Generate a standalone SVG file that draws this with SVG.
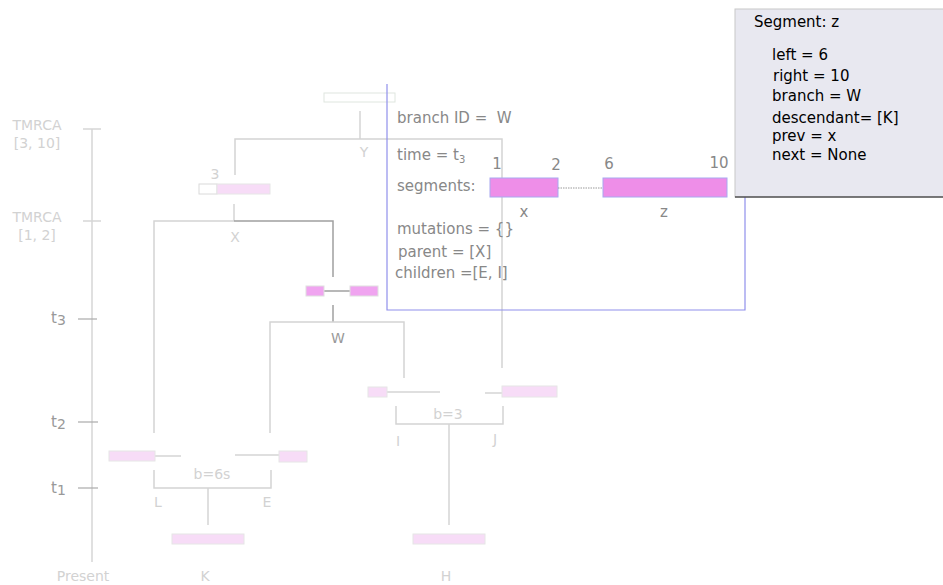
<svg xmlns="http://www.w3.org/2000/svg" width="943" height="585" viewBox="0 0 943 585">
<style>
text{font-family:"DejaVu Sans","Liberation Sans",sans-serif}
.ax{stroke:#d6d6d6;stroke-width:1.5;fill:none}
.tk{stroke:#aaa;stroke-width:1.2;fill:none}
.ln{stroke:#d4d4d4;stroke-width:1.5;fill:none}
.dk{stroke:#a0a0a0;stroke-width:1.5;fill:none}
.faint{fill:#d2d2d2;font-size:14px}
.tl{fill:#999;font-size:15px}
.lp{fill:#f7dcf7;stroke:#e6e6e6;stroke-width:1}
.mp{fill:#f0a4f0;stroke:#e0e0e0;stroke-width:1}
.info{fill:#888;font-size:15px}
.seg{fill:#ee8ee8;stroke:#a8a8f0;stroke-width:1}
.sb{fill:#000;font-size:15px}
</style>
<g id="axis">
<line class="ax" x1="92" y1="129" x2="92" y2="562"/>
<line class="ax" x1="83" y1="129" x2="101" y2="129"/>
<line class="ax" x1="83" y1="221" x2="101" y2="221"/>
<line class="tk" x1="78" y1="319" x2="97" y2="319"/>
<line class="tk" x1="78" y1="422" x2="98" y2="422"/>
<line class="tk" x1="78" y1="488" x2="98" y2="488"/>
<text class="faint" x="37" y="130" text-anchor="middle">TMRCA</text>
<text class="faint" x="37" y="148" text-anchor="middle">[3, 10]</text>
<text class="faint" x="37" y="222" text-anchor="middle">TMRCA</text>
<text class="faint" x="37" y="240" text-anchor="middle">[1, 2]</text>
<text class="tl" x="51" y="323">t<tspan font-size="14" dy="2">3</tspan></text>
<text class="tl" x="51" y="427">t<tspan font-size="14" dy="2">2</tspan></text>
<text class="tl" x="51" y="493">t<tspan font-size="14" dy="2">1</tspan></text>
<text class="faint" x="83" y="581" text-anchor="middle">Present</text>
</g>
<g id="connectors">
<line class="ln" x1="360" y1="111" x2="360" y2="139"/>
<polyline class="ln" points="235,175 235,139 502,139 502,368"/>
<line class="ln" x1="234" y1="204" x2="234" y2="221"/>
<polyline class="ln" points="154,433 154,221 234,221"/>
<polyline class="dk" points="234,221 333,221 333,277"/>
<line class="dk" x1="324" y1="291" x2="350" y2="291"/>
<line class="dk" x1="333" y1="305" x2="333" y2="322"/>
<polyline class="ln" points="270,433 270,322 404,322 404,378"/>
<line class="ln" x1="387" y1="392" x2="440" y2="392"/>
<line class="ln" x1="485" y1="393" x2="502" y2="393"/>
<polyline class="ln" points="396,406 396,424 503,424 503,406"/>
<line class="ln" x1="449" y1="424" x2="449" y2="525"/>
<line class="ln" x1="155" y1="456" x2="181" y2="456"/>
<line class="ln" x1="235" y1="455" x2="279" y2="455"/>
<polyline class="ln" points="154,470 154,488 271,488 271,470"/>
<line class="ln" x1="208" y1="488" x2="208" y2="525"/>
</g>
<g id="node-Y">
<rect x="324" y="93" width="71" height="9" fill="#fff" stroke="#dfe6df" stroke-width="1"/>
<text class="faint" x="364" y="157" text-anchor="middle">Y</text>
</g>
<g id="node-X">
<rect x="199" y="184" width="18" height="10" fill="#fff" stroke="#dadada" stroke-width="1"/>
<rect class="lp" x="217" y="184" width="53" height="10"/>
<text class="faint" x="215" y="179" text-anchor="middle">3</text>
<text class="faint" x="235" y="242" text-anchor="middle">X</text>
</g>
<g id="node-W">
<rect class="mp" x="306" y="286" width="18" height="10"/>
<rect class="mp" x="350" y="286" width="28" height="10"/>
<text x="338" y="343" text-anchor="middle" fill="#999" font-size="14">W</text>
</g>
<g id="node-I">
<rect class="lp" x="368" y="387" width="19" height="10"/>
<text class="faint" x="398" y="446" text-anchor="middle">I</text>
</g>
<g id="node-J">
<rect class="lp" x="502" y="386" width="55" height="11"/>
<text class="faint" x="495" y="444" text-anchor="middle">J</text>
</g>
<g id="label-b3">
<text class="faint" x="448" y="419" text-anchor="middle">b=3</text>
</g>
<g id="node-H">
<rect class="lp" x="413" y="534" width="72" height="10"/>
<text class="faint" x="446" y="581" text-anchor="middle">H</text>
</g>
<g id="node-L">
<rect class="lp" x="109" y="451" width="46" height="10"/>
<text class="faint" x="158" y="507" text-anchor="middle">L</text>
</g>
<g id="node-E">
<rect class="lp" x="279" y="451" width="28" height="11"/>
<text class="faint" x="267" y="507" text-anchor="middle">E</text>
</g>
<g id="label-b6s">
<text class="faint" x="212" y="479" text-anchor="middle">b=6s</text>
</g>
<g id="node-K">
<rect class="lp" x="172" y="534" width="72" height="10"/>
<text class="faint" x="205" y="581" text-anchor="middle">K</text>
</g>
<g id="info-box">
<polyline points="387,84 387,310 745,310 745,84" fill="none" stroke="#9090ec" stroke-width="1.2"/>
<text class="info" x="397" y="123" xml:space="preserve">branch ID =  W</text>
<text class="info" x="397" y="160">time = t<tspan font-size="10" dy="3">3</tspan></text>
<text class="info" x="397" y="191">segments:</text>
<text class="info" x="497" y="169" text-anchor="middle">1</text>
<text class="info" x="556" y="170" text-anchor="middle">2</text>
<text class="info" x="609" y="169" text-anchor="middle">6</text>
<text class="info" x="719" y="168" text-anchor="middle">10</text>
<rect class="seg" x="490" y="178" width="68" height="19"/>
<rect class="seg" x="603" y="178" width="124" height="19"/>
<line x1="558" y1="188" x2="603" y2="188" stroke="#999" stroke-width="1" stroke-dasharray="1.5,1"/>
<text class="info" x="524" y="217" text-anchor="middle">x</text>
<text class="info" x="664" y="217" text-anchor="middle">z</text>
<text class="info" x="397" y="234">mutations = {}</text>
<text class="info" x="398" y="257">parent = [X]</text>
<text class="info" x="395" y="278">children =[E, I]</text>
</g>
<g id="segment-box">
<rect x="735" y="9" width="215" height="188" fill="#e8e8f0" stroke="#c8c8c8" stroke-width="1"/>
<line x1="735" y1="197" x2="943" y2="197" stroke="#111" stroke-width="1.2"/>
<text class="sb" x="754" y="27">Segment: z</text>
<text class="sb" x="772" y="60">left = 6</text>
<text class="sb" x="773" y="81">right = 10</text>
<text class="sb" x="772" y="101">branch = W</text>
<text class="sb" x="772" y="123">descendant= [K]</text>
<text class="sb" x="772" y="141">prev = x</text>
<text class="sb" x="772" y="160">next = None</text>
</g>
</svg>
